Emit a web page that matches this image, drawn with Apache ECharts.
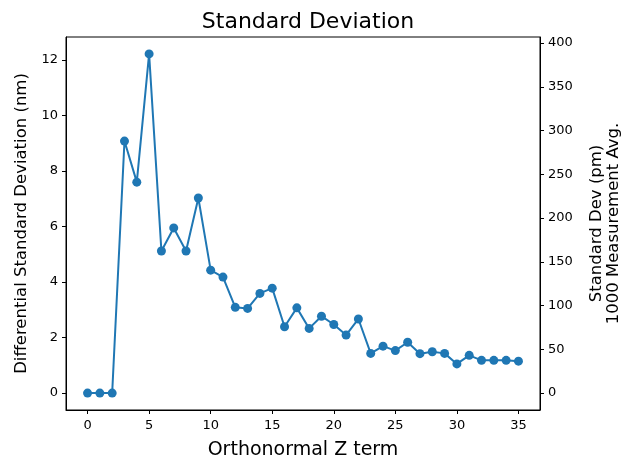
<!DOCTYPE html>
<html>
<head>
<meta charset="utf-8">
<script src="https://cdn.jsdelivr.net/npm/echarts@6/dist/echarts.min.js"></script>
<style>
  html, body { margin: 0; padding: 0; background: #fff; }
  #chart { width: 626px; height: 461px; }
</style>
</head>
<body>
<div id="chart"></div>
<script>
// Z term index along the x axis
const zTerms = [
  0, 1, 2, 3, 4, 5, 6, 7, 8, 9, 10, 11, 12, 13, 14, 15, 16, 17,
  18, 19, 20, 21, 22, 23, 24, 25, 26, 27, 28, 29, 30, 31, 32, 33, 34, 35,
]
// differential standard deviation (nm)
const stdDevNm = [
  0, 0, 0, 9.08, 7.6, 12.22, 5.12, 5.95, 5.12, 7.03, 4.43, 4.18, 3.09, 3.05,
  3.59, 3.78, 2.39, 3.07, 2.33, 2.77, 2.47, 2.09, 2.67, 1.43, 1.69, 1.53,
  1.83, 1.42, 1.49, 1.43, 1.05, 1.36, 1.18, 1.18, 1.18, 1.15,
]
// tick labels
const xTicks = [0, 5, 10, 15, 20, 25, 30, 35]
const leftTicks = [0, 2, 4, 6, 8, 10, 12]
const rightTicks = [0, 50, 100, 150, 200, 250, 300, 350, 400]

const chart = echarts.init(document.getElementById('chart'))
const font = 'DejaVu Sans'

const axisCommon = {
  axisLine: { show: true, onZero: false, lineStyle: { color: '#000', width: 1 } },
  axisTick: { show: true, inside: false, length: 4, lineStyle: { color: '#000' } },
  axisLabel: { color: '#000', fontFamily: font, fontSize: 13 },
  splitLine: { show: false },
  nameTextStyle: { color: '#000', fontFamily: font },
}

const option = {
  animation: false,
  backgroundColor: '#fff',
  title: {
    text: 'Standard Deviation',
    left: 303,
    textAlign: 'center',
    top: 6,
    textStyle: { fontFamily: font, fontSize: 22, fontWeight: 'normal', color: '#000' },
  },
  grid: {
    left: 66, right: 86, top: 37, bottom: 51,
    outerBoundsMode: 'none',
    show: true,
    borderColor: '#000',
    borderWidth: 1,
    backgroundColor: 'transparent',
  },
  xAxis: {
    ...axisCommon,
    type: 'value',
    min: -1.75,
    max: 36.75,
    axisTick: { ...axisCommon.axisTick, customValues: xTicks },
    axisLabel: { ...axisCommon.axisLabel, customValues: xTicks, margin: 9 },
    name: 'Orthonormal Z term',
    nameLocation: 'middle',
    nameGap: 31,
    nameTextStyle: { ...axisCommon.nameTextStyle, fontSize: 19 },
  },
  yAxis: [
    {
      ...axisCommon,
      type: 'value',
      position: 'left',
      min: -0.61,
      max: 12.83,
      axisTick: { ...axisCommon.axisTick, customValues: leftTicks },
      axisLabel: { ...axisCommon.axisLabel, customValues: leftTicks, margin: 8 },
      name: 'Differential Standard Deviation (nm)',
      nameLocation: 'middle',
      nameRotate: 90,
      nameGap: 32,
      nameTextStyle: { ...axisCommon.nameTextStyle, fontSize: 16.5 },
    },
    {
      ...axisCommon,
      type: 'value',
      position: 'right',
      min: -19.4,
      max: 406.9,
      axisTick: { ...axisCommon.axisTick, customValues: rightTicks },
      axisLabel: { ...axisCommon.axisLabel, customValues: rightTicks, margin: 8 },
      name: 'Standard Dev (pm)\n1000 Measurement Avg.',
      nameLocation: 'middle',
      nameRotate: 90,
      nameGap: 48,
      nameTextStyle: { ...axisCommon.nameTextStyle, fontSize: 16.5, lineHeight: 17 },
    },
  ],
  series: [
    {
      type: 'line',
      yAxisIndex: 0,
      data: zTerms.map((z, i) => [z, stdDevNm[i]]),
      symbol: 'circle',
      symbolSize: 9,
      showSymbol: true,
      itemStyle: { color: '#1f77b4' },
      lineStyle: { color: '#1f77b4', width: 2 },
    },
  ],
}

chart.setOption(option)
</script>
</body>
</html>
